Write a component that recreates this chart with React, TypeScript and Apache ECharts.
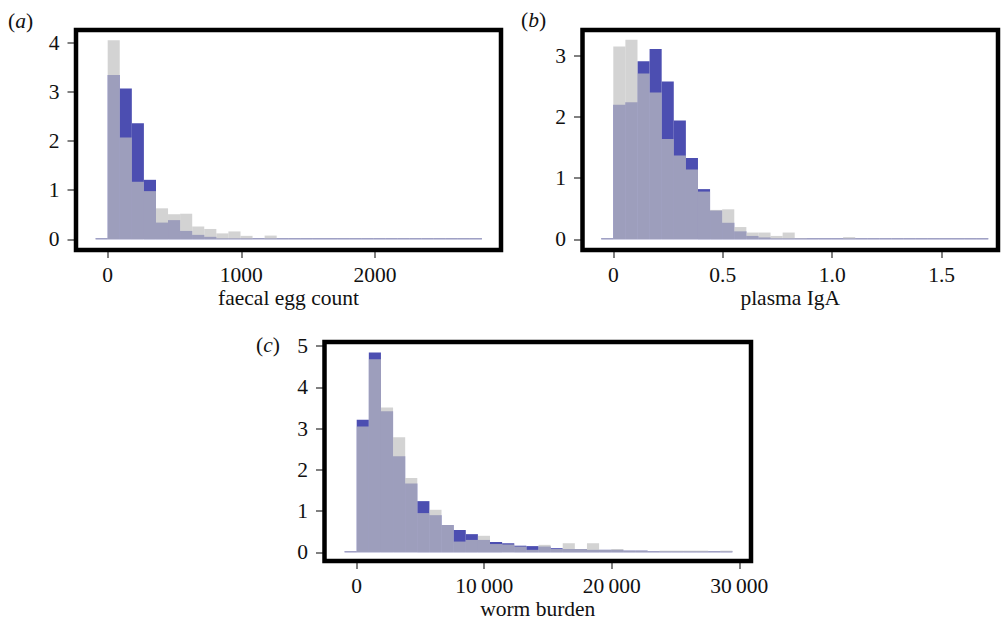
import React, { useEffect, useRef } from "react";
import * as echarts from "echarts";

const FONT = "Liberation Serif";
const FS = 21.5;
const BLUE = "#4c4eb1";
const GREY = "rgba(192,192,192,0.70)";
const TICK = "#808080";
const INK = "#111111";

// (a) faecal egg count — histogram densities (first bin is the empty bin just below 0)
const eggBinWidth = 90.3;
const eggBlue = [0, 3.34, 3.07, 2.36, 1.21, 0.34, 0.39, 0.17, 0.09, 0.05, 0.02, 0.015, 0.01, 0.005, 0.005, 0.01, 0.015, 0, 0.02, 0.01, 0.015, 0.007, 0, 0.005, 0, 0, 0.003, 0, 0.003, 0.003, 0.003, 0.003];
const eggGrey = [0, 4.05, 2.07, 1.17, 0.98, 0.63, 0.51, 0.52, 0.26, 0.21, 0.12, 0.16, 0.07, 0.02, 0.075, 0.01, 0, 0.02, 0.02, 0.01, 0, 0.007, 0, 0, 0.007, 0.02, 0.003, 0.02, 0.003, 0.003, 0.003, 0.003];
const eggXTicks = [0, 1000, 2000];
const eggYTicks = [0, 1, 2, 3, 4];

// (b) plasma IgA
const igaBinWidth = 0.05526;
const igaBlue = [0, 2.2, 2.24, 2.91, 3.11, 2.58, 1.94, 1.33, 0.82, 0.47, 0.27, 0.13, 0.055, 0.03, 0.015, 0.01, 0.005, 0.01, 0.01, 0.01, 0.005, 0.01, 0.003, 0.003, 0.003, 0.003, 0.003, 0.003, 0.003, 0.003, 0.003, 0.01];
const igaGrey = [0, 3.15, 3.26, 2.71, 2.4, 1.64, 1.37, 1.14, 0.78, 0.48, 0.49, 0.2, 0.11, 0.11, 0.055, 0.11, 0.02, 0, 0, 0, 0.035, 0, 0.003, 0.003, 0.003, 0.003, 0.003, 0.003, 0.003, 0.003, 0.003, 0];
const igaXTicks = [0, 0.5, 1.0, 1.5];
const igaYTicks = [0, 1, 2, 3];

// (c) worm burden
const wormBinWidth = 950.3;
const wormBlue = [0, 3.21, 4.84, 3.42, 2.33, 1.67, 1.24, 0.9, 0.66, 0.54, 0.44, 0.3, 0.25, 0.22, 0.16, 0.15, 0.14, 0.1, 0.08, 0.08, 0.06, 0.06, 0.06, 0.04, 0.04, 0.01, 0.005, 0.005, 0.005, 0.005, 0.005, 0.005];
const wormGrey = [0, 3.05, 4.68, 3.51, 2.79, 1.8, 0.95, 1.03, 0.66, 0.26, 0.3, 0.4, 0.2, 0.19, 0.14, 0.06, 0.18, 0.08, 0.22, 0.08, 0.22, 0.06, 0.08, 0.04, 0.04, 0, 0.04, 0.04, 0.04, 0.04, 0.005, 0.04];
const wormXTicks = [0, 10000, 20000, 30000];
const wormYTicks = [0, 1, 2, 3, 4, 5];

const titles = ["faecal egg count", "plasma IgA", "worm burden"];
const panelLetters = ["a", "b", "c"];

// layout (pixels) and axis extents
const panels = [
  { left: 76, top: 30, width: 425, height: 220, xMin: -237, xMax: 2942, yMin: -0.218, yMax: 4.258, labelX: 8, labelY: 21 },
  { left: 582.5, top: 30, width: 415.5, height: 220, xMin: -0.1407, xMax: 1.7575, yMin: -0.175, yMax: 3.42, labelX: 521, labelY: 20 },
  { left: 324.5, top: 342, width: 426.5, height: 219, xMin: -2525, xMax: 30918, yMin: -0.211, yMax: 5.097, labelX: 256, labelY: 345 },
];

function toBins(heights: number[], w: number) {
  return heights.map((h, i) => [-w + i * w, i * w, h]);
}

function fmtThousands(v: number) {
  if (Math.abs(v) < 10000) return String(v);
  const s = String(v);
  return s.slice(0, s.length - 3) + "\u2009" + s.slice(s.length - 3);
}

function histSeries(data: number[][], idx: number, color: string) {
  return {
    type: "custom",
    xAxisIndex: idx,
    yAxisIndex: idx,
    data,
    renderItem: (params: any, api: any) => {
      const p0 = api.coord([api.value(0), 0]);
      const p1 = api.coord([api.value(1), api.value(2)]);
      let h = p0[1] - p1[1];
      if (h < 1) h = 1;
      return {
        type: "rect",
        shape: { x: p0[0], y: p0[1] - h, width: p1[0] - p0[0], height: h },
        style: { fill: color },
      };
    },
  };
}

export default function App() {
  const ref = useRef<HTMLDivElement>(null);
  useEffect(() => {
    if (!ref.current) return;
    const chart = echarts.init(ref.current, undefined, { renderer: "svg" });
    const xTicks = [eggXTicks, igaXTicks, wormXTicks];
    const yTicks = [eggYTicks, igaYTicks, wormYTicks];
    const blues = [toBins(eggBlue, eggBinWidth), toBins(igaBlue, igaBinWidth), toBins(wormBlue, wormBinWidth)];
    const greys = [toBins(eggGrey, eggBinWidth), toBins(igaGrey, igaBinWidth), toBins(wormGrey, wormBinWidth)];

    const grid = panels.map((p) => ({ left: p.left, top: p.top, width: p.width, height: p.height, containLabel: false }));
    const xAxis = panels.map((p, i) => ({
      type: "value",
      gridIndex: i,
      position: "bottom",
      min: p.xMin,
      max: p.xMax,
      axisLine: { show: false, onZero: false },
      splitLine: { show: false },
      axisTick: { show: true, length: 8, lineStyle: { color: TICK, width: 2 }, customValues: xTicks[i] },
      axisLabel: {
        customValues: xTicks[i],
        margin: 14,
        fontSize: FS,
        fontFamily: FONT,
        color: INK,
        formatter: (v: number) => (i === 2 ? fmtThousands(v) : i === 1 ? (v === 0 ? "0" : v.toFixed(1)) : String(v)),
      },
      name: titles[i],
      nameLocation: "middle",
      nameGap: 37,
      nameTextStyle: { fontSize: FS, fontFamily: FONT, color: INK },
    }));
    const yAxis = panels.map((p, i) => ({
      type: "value",
      gridIndex: i,
      position: "left",
      min: p.yMin,
      max: p.yMax,
      axisLine: { show: false, onZero: false },
      splitLine: { show: false },
      axisTick: { show: true, length: 8.5, lineStyle: { color: TICK, width: 2 }, customValues: yTicks[i] },
      axisLabel: { customValues: yTicks[i], margin: 16.5, fontSize: FS, fontFamily: FONT, color: INK },
    }));

    const series: any[] = [];
    for (let i = 0; i < 3; i++) {
      series.push(histSeries(blues[i], i, BLUE));
      series.push(histSeries(greys[i], i, GREY));
    }

    const graphic: any[] = [];
    panels.forEach((p, i) => {
      graphic.push({
        type: "rect",
        z: 100,
        silent: true,
        shape: { x: p.left, y: p.top, width: p.width, height: p.height },
        style: { fill: "none", stroke: "#000", lineWidth: 4.5 },
      });
      graphic.push({
        type: "text",
        z: 100,
        x: p.labelX,
        y: p.labelY,
        style: {
          text: "{p|(}{i|" + panelLetters[i] + "}{p|)}",
          verticalAlign: "middle",
          fill: INK,
          rich: {
            p: { fontSize: FS, fontFamily: FONT, fill: INK },
            i: { fontSize: FS, fontFamily: FONT, fontStyle: "italic", fill: INK },
          },
        },
      });
    });

    chart.setOption({
      animation: false,
      backgroundColor: "#ffffff",
      grid,
      xAxis,
      yAxis,
      series,
      graphic,
    });
    return () => chart.dispose();
  }, []);
  return <div ref={ref} style={{ position: "fixed", left: 0, top: 0, width: 1001, height: 625 }} />;
}
